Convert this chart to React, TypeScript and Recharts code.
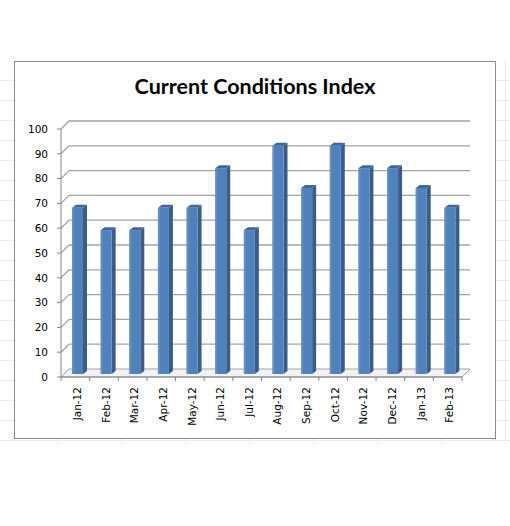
import React from "react";
import { BarChart, Bar, XAxis, YAxis, CartesianGrid } from "recharts";

const months: string[] = [
  "Jan-12", "Feb-12", "Mar-12", "Apr-12", "May-12", "Jun-12", "Jul-12",
  "Aug-12", "Sep-12", "Oct-12", "Nov-12", "Dec-12", "Jan-13", "Feb-13",
];
const indexValues: number[] = [67, 58, 58, 67, 67, 83, 58, 92, 75, 92, 83, 83, 75, 67];
const yTicks: number[] = [0, 10, 20, 30, 40, 50, 60, 70, 80, 90, 100];

const data = months.map((month, i) => ({ month, value: indexValues[i] }));

// depth of the fake 3d walls and bars
const WALL = 8;
const BAR_DX = 2;
const BAR_DY = 3;
const BAR_DEPTH = 4;
const GRID = "#a3a3a3";
const FONT = "'DejaVu Sans', sans-serif";

const GridLine = (props: any) => {
  const { x1, x2, y1, index } = props;
  if (index === 0) {
    // floor
    return (
      <g key={`g-${index}`}>
        <polygon
          points={`${x1},${y1} ${x1 + WALL},${y1 - WALL} ${x2 + WALL},${y1 - WALL} ${x2},${y1}`}
          fill="#f2f2f2"
          stroke={GRID}
          strokeWidth={1}
        />
      </g>
    );
  }
  return (
    <g key={`g-${index}`}>
      <line x1={x1} y1={y1} x2={x1 + WALL} y2={y1 - WALL} stroke={GRID} strokeWidth={1.3} />
      <line x1={x1 + WALL} y1={y1 - WALL} x2={x2 + WALL} y2={y1 - WALL} stroke={GRID} strokeWidth={1.3} />
    </g>
  );
};

const Bar3D = (props: any) => {
  const { x, y, width, height } = props;
  if (height == null || height <= 0) return null;
  const fx = x + BAR_DX;
  const fy = y - BAR_DY;
  const d = BAR_DEPTH;
  return (
    <g>
      <polygon
        points={`${fx + width},${fy} ${fx + width + d},${fy - d + 1} ${fx + width + d},${fy + height - d + 1} ${fx + width},${fy + height}`}
        fill="#385d8a"
      />
      <polygon
        points={`${fx},${fy} ${fx + d},${fy - d + 1} ${fx + width + d},${fy - d + 1} ${fx + width},${fy}`}
        fill="#3f679c"
      />
      <rect x={fx} y={fy} width={width} height={height} fill="#4f81bd" />
      <rect x={fx} y={fy} width={2} height={height} fill="#6f98cc" opacity={0.6} />
    </g>
  );
};

const MonthTick = (props: any) => {
  const { x, y, payload, index } = props;
  const half = payload?.offset ?? 14;
  return (
    <g>
      <line x1={x - half} y1={y} x2={x - half} y2={y + 4} stroke="#868686" />
      {index === months.length - 1 && (
        <line x1={x + half} y1={y} x2={x + half} y2={y + 4} stroke="#868686" />
      )}
      <text
        x={x + 2}
        y={y + 10}
        transform={`rotate(-90, ${x + 2}, ${y + 10})`}
        textAnchor="end"
        dy="0.35em"
        fontSize={10.5}
        fontFamily={FONT}
        fill="#000"
      >
        {payload.value}
      </text>
    </g>
  );
};

const App: React.FC = () => {
  return (
    <div
      style={{
        position: "absolute",
        left: 0,
        top: 0,
        width: 510,
        height: 526,
        background: "#fff",
        overflow: "hidden",
      }}
    >
      {/* faint worksheet cells behind the chart */}
      <div
        style={{
          position: "absolute",
          left: 0,
          top: 61,
          width: 510,
          height: 384,
          backgroundImage:
            "linear-gradient(to right, #e9eaeb 1px, transparent 1px), linear-gradient(to bottom, #e9eaeb 1px, transparent 1px)",
          backgroundSize: "64px 20px",
          backgroundPosition: "57px 19px",
        }}
      />
      <div
        style={{
          position: "absolute",
          left: 14,
          top: 61,
          width: 480,
          height: 376,
          background: "#fff",
          border: "1px solid #8c8c8c",
        }}
      />
      <div
        style={{
          position: "absolute",
          left: 0,
          top: 73,
          width: 510,
          textAlign: "center",
          fontFamily: "Lato, sans-serif",
          fontWeight: 700,
          fontSize: 21.5,
          color: "#000",
        }}
      >
        Current Conditions Index
      </div>
      <div style={{ position: "absolute", left: 0, top: 0 }}>
        <BarChart
          width={510}
          height={526}
          data={data}
          margin={{ top: 129, right: 48, bottom: 89, left: 16 }}
          barSize={11}
        >
          <CartesianGrid vertical={false} horizontal={GridLine} stroke={GRID} />
          <XAxis
            dataKey="month"
            height={60}
            interval={0}
            tickLine={false}
            tickSize={0}
            tickMargin={0}
            axisLine={{ stroke: "#868686" }}
            tick={<MonthTick />}
          />
          <YAxis
            width={45}
            domain={[0, 100]}
            ticks={yTicks}
            interval={0}
            tickSize={4}
            tickMargin={9}
            axisLine={{ stroke: "#868686" }}
            tickLine={{ stroke: "#868686" }}
            tick={{ fontSize: 10.5, fontFamily: FONT, fill: "#000" }}
          />
          <Bar dataKey="value" shape={<Bar3D />} isAnimationActive={false} />
        </BarChart>
      </div>
    </div>
  );
};

export default App;
